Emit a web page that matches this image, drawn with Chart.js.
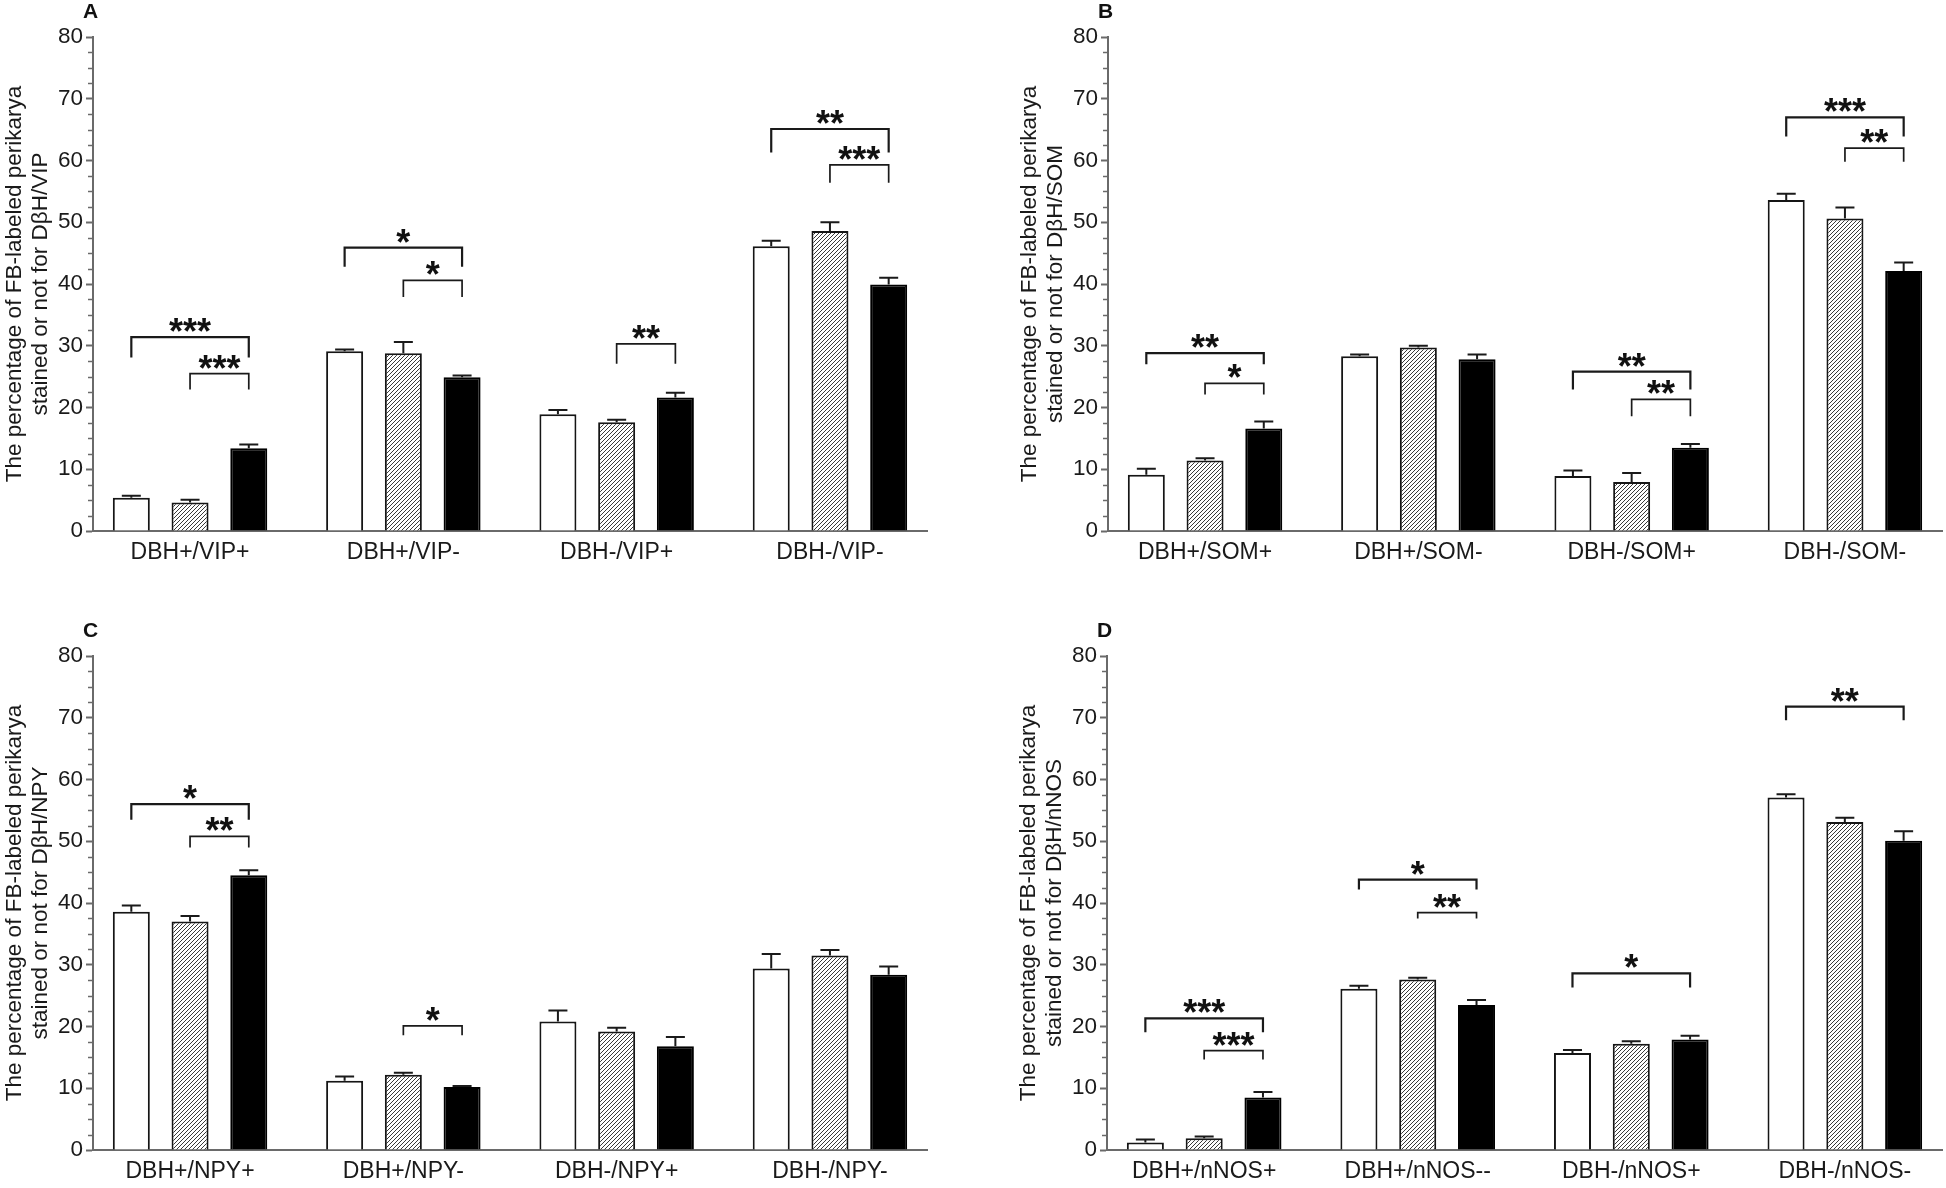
<!DOCTYPE html>
<html>
<head>
<meta charset="utf-8">
<script src="https://cdn.jsdelivr.net/npm/chart.js@4.4.1/dist/chart.umd.min.js"></script>
<style>
  html, body { margin: 0; padding: 0; background: #fff; }
  body { width: 1946px; height: 1188px; position: relative; overflow: hidden; }
  .panel { position: absolute; width: 973px; height: 594px; }
</style>
</head>
<body>
<div class="panel" style="left:0;top:0"><canvas id="chartA" width="973" height="594"></canvas></div>
<div class="panel" style="left:973px;top:0"><canvas id="chartB" width="973" height="594"></canvas></div>
<div class="panel" style="left:0;top:594px"><canvas id="chartC" width="973" height="594"></canvas></div>
<div class="panel" style="left:973px;top:594px"><canvas id="chartD" width="973" height="594"></canvas></div>
<script>
// values, % of FB-labeled perikarya (mean and upper SEM)
const yTicks = [0, 10, 20, 30, 40, 50, 60, 70, 80];

const vipCategories = ['DBH+/VIP+', 'DBH+/VIP-', 'DBH-/VIP+', 'DBH-/VIP-'];
const vipWhite = [5.4, 29.1, 18.9, 46.1];
const vipHatched = [4.6, 28.8, 17.6, 48.6];
const vipBlack = [13.4, 24.9, 21.6, 39.9];
const vipWhiteErr = [0.3, 0.3, 0.7, 0.9];
const vipHatchedErr = [0.45, 1.8, 0.4, 1.4];
const vipBlackErr = [0.6, 0.3, 0.8, 1.1];
// [group, from bar, to bar, top, leg end, stars]
const vipBrackets = [
  [0, 0, 2, 31.4, 28.1, '***'], [0, 1, 2, 25.5, 22.9, '***'],
  [1, 0, 2, 45.9, 42.8, '*'], [1, 1, 2, 40.6, 37.9, '*'],
  [2, 1, 2, 30.3, 27.1, '**'],
  [3, 0, 2, 65.1, 61.3, '**'], [3, 1, 2, 59.3, 56.4, '***']
];

const somCategories = ['DBH+/SOM+', 'DBH+/SOM-', 'DBH-/SOM+', 'DBH-/SOM-'];
const somWhite = [9.1, 28.3, 8.9, 53.6];
const somHatched = [11.4, 29.7, 7.95, 50.6];
const somBlack = [16.6, 27.8, 13.5, 42.1];
const somWhiteErr = [1.0, 0.3, 0.9, 1.0];
const somHatchedErr = [0.4, 0.3, 1.45, 1.8];
const somBlackErr = [1.15, 0.8, 0.6, 1.4];
const somBrackets = [
  [0, 0, 2, 28.8, 27.0, '**'], [0, 1, 2, 23.9, 22.1, '*'],
  [2, 0, 2, 25.8, 22.9, '**'], [2, 1, 2, 21.3, 18.6, '**'],
  [3, 0, 2, 67.0, 63.9, '***'], [3, 1, 2, 62.0, 59.8, '**']
];

const npyCategories = ['DBH+/NPY+', 'DBH+/NPY-', 'DBH-/NPY+', 'DBH-/NPY-'];
const npyWhite = [38.6, 11.2, 20.8, 29.4];
const npyHatched = [37.0, 12.2, 19.2, 31.5];
const npyBlack = [44.5, 10.2, 16.8, 28.4];
const npyWhiteErr = [1.0, 0.7, 1.8, 2.35];
const npyHatchedErr = [0.9, 0.3, 0.6, 0.9];
const npyBlackErr = [0.8, 0.15, 1.5, 1.3];
const npyBrackets = [
  [0, 0, 2, 56.0, 53.5, '*'], [0, 1, 2, 50.8, 49.0, '**'],
  [1, 1, 2, 20.1, 18.6, '*']
];

const nosCategories = ['DBH+/nNOS+', 'DBH+/nNOS--', 'DBH-/nNOS+', 'DBH-/nNOS-'];
const nosWhite = [1.2, 26.1, 15.7, 57.1];
const nosHatched = [1.9, 27.6, 17.2, 53.1];
const nosBlack = [8.5, 23.5, 17.9, 50.1];
const nosWhiteErr = [0.5, 0.5, 0.5, 0.5];
const nosHatchedErr = [0.3, 0.3, 0.4, 0.7];
const nosBlackErr = [0.9, 0.8, 0.6, 1.5];
const nosBrackets = [
  [0, 0, 2, 21.3, 19.05, '***'], [0, 1, 2, 16.1, 14.65, '***'],
  [1, 0, 2, 43.8, 42.2, '*'], [1, 1, 2, 38.45, 37.5, '**'],
  [2, 0, 2, 28.6, 26.3, '*'],
  [3, 0, 2, 71.8, 69.6, '**']
];

const FONT = '"Liberation Sans", Arial, Helvetica, sans-serif';
const AXIS = '#6a6a6a';
const TEXT = '#1a1a1a';
Chart.defaults.font.family = FONT;

function hatchPattern() {
  const c = document.createElement('canvas');
  c.width = 4; c.height = 4;
  const g = c.getContext('2d');
  g.fillStyle = '#fff';
  g.fillRect(0, 0, 4, 4);
  g.strokeStyle = '#3a3a3a';
  g.lineWidth = 1;
  g.beginPath();
  g.moveTo(-1, 5); g.lineTo(5, -1);
  g.moveTo(-1, 1); g.lineTo(1, -1);
  g.moveTo(3, 5); g.lineTo(5, 3);
  g.stroke();
  return g.createPattern(c, 'repeat');
}

const minorTicks = {
  id: 'minorTicks',
  afterDraw(chart) {
    const { ctx } = chart;
    const y = chart.scales.y;
    const x0 = chart.chartArea.left;
    ctx.save();
    ctx.strokeStyle = AXIS;
    ctx.lineWidth = 1.5;
    for (let v = 0; v <= 80; v += 2.5) {
      if (v % 10 === 0) continue;
      const py = Math.round(y.getPixelForValue(v)) + 0.5;
      ctx.beginPath();
      ctx.moveTo(x0 - 5, py);
      ctx.lineTo(x0, py);
      ctx.stroke();
    }
    ctx.restore();
  }
};

const errorBars = {
  id: 'errorBars',
  afterDatasetsDraw(chart) {
    const { ctx } = chart;
    const y = chart.scales.y;
    ctx.save();
    ctx.strokeStyle = '#1a1a1a';
    ctx.lineWidth = 2;
    chart.data.datasets.forEach((ds, di) => {
      chart.getDatasetMeta(di).data.forEach((bar, i) => {
        const top = y.getPixelForValue(ds.data[i].y + ds.errors[i]);
        ctx.beginPath();
        ctx.moveTo(bar.x, bar.y);
        ctx.lineTo(bar.x, top);
        ctx.moveTo(bar.x - 9.5, top);
        ctx.lineTo(bar.x + 9.5, top);
        ctx.stroke();
      });
    });
    ctx.restore();
  }
};

const brackets = {
  id: 'brackets',
  afterDraw(chart) {
    const { ctx } = chart;
    const y = chart.scales.y;
    const list = chart.options.plugins.brackets.list;
    ctx.save();
    ctx.strokeStyle = '#1a1a1a';
    ctx.fillStyle = '#111';
    list.forEach(b => {
      const [g, from, to, top, leg, stars] = b;
      const xa = chart.getDatasetMeta(from).data[g].x;
      const xb = chart.getDatasetMeta(to).data[g].x;
      const yt = y.getPixelForValue(top);
      const yl = y.getPixelForValue(leg);
      ctx.lineWidth = from === 0 ? 2.2 : 1.7;
      ctx.beginPath();
      ctx.moveTo(xa, yl);
      ctx.lineTo(xa, yt);
      ctx.lineTo(xb, yt);
      ctx.lineTo(xb, yl);
      ctx.stroke();
      ctx.font = 'bold 36px ' + FONT;
      ctx.textAlign = 'center';
      ctx.textBaseline = 'alphabetic';
      ctx.fillText(stars, (xa + xb) / 2, yt + 7);
    });
    ctx.restore();
  }
};

const panelLetter = {
  id: 'panelLetter',
  afterDraw(chart) {
    const { ctx, chartArea } = chart;
    ctx.save();
    ctx.font = 'bold 21px ' + FONT;
    ctx.fillStyle = '#111';
    ctx.textBaseline = 'top';
    ctx.textAlign = 'left';
    ctx.fillText(chart.options.plugins.panelLetter.text, chartArea.left - 10, chartArea.top - 35);
    ctx.restore();
  }
};

function makePanel(id, letter, marker, categories, white, hatched, black, whiteErr, hatchedErr, blackErr, bracketList, pad, xAxisHeight) {
  const ctx = document.getElementById(id).getContext('2d');
  const toPoints = arr => arr.map((v, i) => ({ x: i, y: v }));
  new Chart(ctx, {
    type: 'bar',
    data: {
      datasets: [
        { label: 'white', data: toPoints(white), errors: whiteErr, backgroundColor: '#fff', borderColor: '#151515', borderWidth: 2 },
        { label: 'hatched', data: toPoints(hatched), errors: hatchedErr, backgroundColor: hatchPattern(), borderColor: '#151515', borderWidth: 2 },
        { label: 'black', data: toPoints(black), errors: blackErr, backgroundColor: '#000', borderColor: '#000', borderWidth: 2 }
      ]
    },
    options: {
      responsive: false,
      animation: false,
      barPercentage: 0.63,
      categoryPercentage: 0.826,
      layout: { padding: pad },
      plugins: {
        legend: { display: false },
        tooltip: { enabled: false },
        brackets: { list: bracketList },
        panelLetter: { text: letter }
      },
      scales: {
        x: {
          type: 'linear',
          offset: false,
          min: -0.455,
          max: 3.455,
          afterBuildTicks: s => { s.ticks = categories.map((c, i) => ({ value: i })); },
          afterFit: s => { s.height = xAxisHeight; },
          ticks: {
            callback: v => categories[v],
            font: { size: 23 },
            color: TEXT,
            padding: 8,
            autoSkip: false,
            maxRotation: 0
          },
          grid: { display: false, drawTicks: false },
          border: { display: true, color: AXIS, width: 2 }
        },
        y: {
          min: 0,
          max: 80,
          afterBuildTicks: s => { s.ticks = yTicks.map(v => ({ value: v })); },
          afterFit: s => { s.width = 93; },
          ticks: { font: { size: 22.5 }, color: TEXT, padding: 3 },
          grid: { display: true, drawOnChartArea: false, drawTicks: true, tickLength: 7, tickColor: AXIS, tickWidth: 2 },
          border: { display: true, color: AXIS, width: 2 },
          title: {
            display: true,
            text: ['The percentage of FB-labeled perikarya', 'stained or not for DβH/' + marker],
            font: { size: 22.5, lineHeight: 1.16 },
            color: TEXT,
            padding: { top: 2, bottom: 0 }
          }
        }
      }
    },
    plugins: [minorTicks, errorBars, brackets, panelLetter]
  });
}

makePanel('chartA', 'A', 'VIP', vipCategories, vipWhite, vipHatched, vipBlack, vipWhiteErr, vipHatchedErr, vipBlackErr, vipBrackets,
  { left: 0, top: 37, right: 46, bottom: 0 }, 63);
makePanel('chartB', 'B', 'SOM', somCategories, somWhite, somHatched, somBlack, somWhiteErr, somHatchedErr, somBlackErr, somBrackets,
  { left: 42, top: 37, right: 4, bottom: 0 }, 63);
makePanel('chartC', 'C', 'NPY', npyCategories, npyWhite, npyHatched, npyBlack, npyWhiteErr, npyHatchedErr, npyBlackErr, npyBrackets,
  { left: 0, top: 62, right: 46, bottom: 0 }, 38);
makePanel('chartD', 'D', 'nNOS', nosCategories, nosWhite, nosHatched, nosBlack, nosWhiteErr, nosHatchedErr, nosBlackErr, nosBrackets,
  { left: 41, top: 62, right: 4, bottom: 0 }, 38);
</script>
</body>
</html>
